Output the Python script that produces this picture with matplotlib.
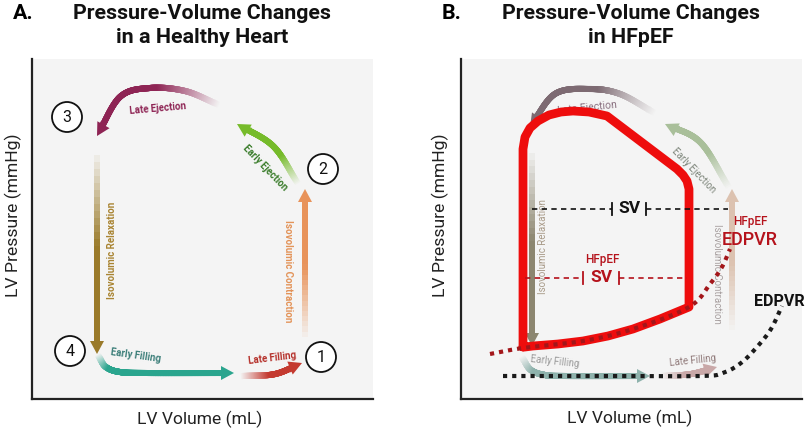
import numpy as np
import matplotlib
matplotlib.use("Agg")
import matplotlib.pyplot as plt
from matplotlib.collections import LineCollection
from matplotlib.patches import Circle, Polygon
from matplotlib.colors import to_rgb

plt.rcParams['font.family'] = ['Roboto', 'DejaVu Sans']

BG = '#f4f4f4'

# ---- panel A: cardiac cycle arrows (volume, pressure in arbitrary units) ----
late_ej_x = [185, 153, 118, 88, 65]
late_ej_y = [295, 308, 311, 302, 263]
early_ej_x = [265, 241, 205]
early_ej_y = [217, 253, 275]
contr_x = [273, 273]
contr_y = [60, 210]
relax_x = [65, 65]
relax_y = [248, 45]
early_fill_x = [67, 74, 88, 115, 202]
early_fill_y = [42, 32, 27, 26, 26]
late_fill_x = [211, 243, 270]
late_fill_y = [23, 25, 36]

steps = ['1', '2', '3', '4']
step_x = [289, 291, 35, 38]
step_y = [42, 230, 282, 48]

# ---- panel B: faded cycle + HFpEF loop ----
b_late_ej_x = [192, 159, 129, 94, 69]
b_late_ej_y = [287, 305, 310, 305, 272]
b_early_ej_x = [267, 239, 204]
b_early_ej_y = [213, 257, 275]
b_contr_x = [271, 271]
b_contr_y = [67, 210]
b_relax_x = [71, 71]
b_relax_y = [250, 53]
b_early_fill_x = [62, 70, 84, 105, 189]
b_early_fill_y = [40, 29, 24, 23, 23]
b_late_fill_x = [202, 230, 256]
b_late_fill_y = [23, 25, 32]

loop_x = [62, 62, 64, 69, 77, 88, 100, 112, 128, 146, 216, 222, 226, 228, 228,
          199, 172, 147, 122, 97, 72, 64, 62]
loop_y = [52, 250, 262, 271, 278, 284, 287, 288, 287, 283, 230, 224, 218, 210, 92,
          80, 70, 63, 58, 55, 53, 52, 52]

hf_edpvr_x = [29, 62, 122, 172, 228, 249, 261, 269]
hf_edpvr_y = [45, 51, 58, 70, 92, 115, 132, 150]

edpvr_x = [42, 150, 240, 262, 280, 296, 310, 321]
edpvr_y = [23, 23, 23, 26, 36, 52, 70, 93]

sv_y, sv_left, sv_right, sv_gap = 190, 71, 267, (151, 185)
hf_sv_y, hf_sv_left, hf_sv_right, hf_sv_gap = 121, 64, 226, (122, 158)


def smooth(xs, ys, n=30):
    P = np.column_stack([xs, ys]).astype(float)
    if len(P) == 2:
        t = np.linspace(0, 1, n)[:, None]
        return P[0] + (P[1] - P[0]) * t
    P = np.vstack([2 * P[0] - P[1], P, 2 * P[-1] - P[-2]])
    out = []
    for i in range(1, len(P) - 2):
        p0, p1, p2, p3 = P[i - 1:i + 3]
        t = np.linspace(0, 1, n, endpoint=False)[:, None]
        out.append(0.5 * (2 * p1 + (-p0 + p2) * t + (2 * p0 - 5 * p1 + 4 * p2 - p3) * t ** 2
                          + (-p0 + 3 * p1 - 3 * p2 + p3) * t ** 3))
    out.append(P[-2][None])
    return np.vstack(out)


def grad_arrow(ax, xs, ys, color, fade=0.45, width=6.0, head_l=13, head_w=14, z=2):
    pts = smooth(xs, ys)
    end = pts[-1]
    d = pts[-1] - pts[-3]
    d = d / np.hypot(*d)
    dist = np.hypot(*(pts - end).T)
    body = pts[dist > head_l * 0.9]
    body = np.vstack([body, end - d * head_l * 0.9])
    segs = np.stack([body[:-1], body[1:]], axis=1)
    c = np.array(to_rgb(color))
    bg = np.array(to_rgb(BG))
    t = np.linspace(0, 1, len(segs))
    f = np.clip(t / fade, 0, 1) if fade > 0 else np.ones_like(t)
    cols = [tuple(bg * (1 - k) + c * k) for k in f]
    lc = LineCollection(segs, colors=cols, linewidths=width / 1.389, capstyle='projecting', zorder=z)
    ax.add_collection(lc)
    perp = np.array([-d[1], d[0]])
    base = end - d * head_l
    tri = Polygon([end, base + perp * head_w / 2, base - perp * head_w / 2],
                  closed=True, color=color, zorder=z, lw=0)
    ax.add_patch(tri)


def setup(ax):
    ax.set_xlim(0, 341)
    ax.set_ylim(0, 340)
    ax.set_facecolor(BG)
    ax.set_xticks([])
    ax.set_yticks([])
    for s in ['top', 'right']:
        ax.spines[s].set_visible(False)
    for s in ['left', 'bottom']:
        ax.spines[s].set_linewidth(1.6)
        ax.spines[s].set_color('#222222')


W, H = 809, 431
fig = plt.figure(figsize=(8.09, 4.31), dpi=100)
fig.patch.set_facecolor('white')
axA = fig.add_axes([32 / W, 1 - 400 / H, 341 / W, 340 / H])
axB = fig.add_axes([461 / W, 1 - 400 / H, 341 / W, 340 / H])
setup(axA)
setup(axB)

tkw = dict(fontsize=7, fontweight='bold', ha='center', va='center')

# panel A
grad_arrow(axA, late_ej_x, late_ej_y, '#8e2454', fade=0.5)
grad_arrow(axA, early_ej_x, early_ej_y, '#76bb2a', fade=0.45)
grad_arrow(axA, contr_x, contr_y, '#e8935a', fade=0.55)
grad_arrow(axA, relax_x, relax_y, '#9a7a2a', fade=0.5)
grad_arrow(axA, early_fill_x, early_fill_y, '#2aa58e', fade=0.35)
grad_arrow(axA, late_fill_x, late_fill_y, '#c43a30', fade=0.55)

axA.text(126, 291, 'Late Ejection', color='#8e2454', rotation=5, **tkw)
axA.text(233, 232, 'Early Ejection', color='#3b7d2c', rotation=-46, **tkw)
axA.text(80, 150, 'Isovolumic Relaxation', color='#a98432', rotation=90, **tkw)
axA.text(256, 129, 'Isovolumic Contraction', color='#e39358', rotation=-90, **tkw)
axA.text(104, 44, 'Early Filling', color='#3d7f7a', rotation=-8, **tkw)
axA.text(240, 42, 'Late Filling', color='#b5302a', rotation=7, **tkw)

for s, x, y in zip(steps, step_x, step_y):
    axA.add_patch(Circle((x, y), 15, facecolor='white', edgecolor='#111111', lw=1.3, zorder=3))
    axA.text(x, y, s, fontsize=11.5, ha='center', va='center', zorder=4, color='#111111')

# panel B faded cycle
grad_arrow(axB, b_late_ej_x, b_late_ej_y, '#7d6a72', fade=0.5)
grad_arrow(axB, b_early_ej_x, b_early_ej_y, '#a9bf9a', fade=0.45)
grad_arrow(axB, b_contr_x, b_contr_y, '#dcc2b0', fade=0.55)
grad_arrow(axB, b_relax_x, b_relax_y, '#8c8670', fade=0.5)
grad_arrow(axB, b_early_fill_x, b_early_fill_y, '#8eb2ac', fade=0.35)
grad_arrow(axB, b_late_fill_x, b_late_fill_y, '#c9a8a8', fade=0.55)

bkw = dict(fontsize=7, ha='center', va='center')
axB.text(126, 292, 'Late Ejection', color='#8a7080', rotation=6, fontsize=7.5, ha='center', va='center')
axB.text(233, 230, 'Early Ejection', color='#7d857a', rotation=-46, **bkw)
axB.text(82, 153, 'Isovolumic Relaxation', color='#a89a88', rotation=90, **bkw)
axB.text(256, 126, 'Isovolumic Contraction', color='#a8a0a0', rotation=-90, **bkw)
axB.text(94, 38, 'Early Filling', color='#9a9a9a', rotation=-6, **bkw)
axB.text(232, 39, 'Late Filling', color='#907a7a', rotation=6, **bkw)

# HFpEF loop
axB.plot(loop_x, loop_y, color='#ee0d0d', lw=6.3, solid_joinstyle='round', solid_capstyle='round', zorder=5)
hp = smooth(hf_edpvr_x, hf_edpvr_y)
axB.plot(hp[:, 0], hp[:, 1], color='#a3161a', lw=3.0, ls=(0, (1, 1.2)), zorder=6)
ep = smooth(edpvr_x, edpvr_y)
axB.plot(ep[:, 0], ep[:, 1], color='#1a1a1a', lw=3.0, ls=(0, (1, 1.2)), zorder=6)


def sv_line(ax, y, left, right, gap, color, label_size):
    ax.plot([left, gap[0]], [y, y], color=color, lw=1.2, ls=(0, (3.2, 2.6)), zorder=7)
    ax.plot([gap[1], right], [y, y], color=color, lw=1.2, ls=(0, (3.2, 2.6)), zorder=7)
    for g in gap:
        ax.plot([g, g], [y - 6, y + 6], color=color, lw=1.3, zorder=7)
    ax.text(sum(gap) / 2, y + 1, 'SV', color=color, fontsize=label_size, fontweight='bold',
            ha='center', va='center', zorder=7)


sv_line(axB, sv_y, sv_left, sv_right, sv_gap, '#111111', 12.5)
sv_line(axB, hf_sv_y, hf_sv_left, hf_sv_right, hf_sv_gap, '#b5121b', 12.5)
axB.text(141, 140, 'HFpEF', color='#b5121b', fontsize=8.5, fontweight='medium', ha='center', va='center')
axB.text(289, 178, 'HFpEF', color='#b5121b', fontsize=8.5, fontweight='medium', ha='center', va='center')
axB.text(289, 160, 'EDPVR', color='#b5121b', fontsize=13, fontweight='medium', ha='center', va='center')
axB.text(318, 98, 'EDPVR', color='#111111', fontsize=11.5, fontweight='bold', ha='center', va='center',
         clip_on=False)

# titles and labels
tt = dict(fontsize=15.4, fontweight='bold', ha='center', va='baseline', color='#111111')
fig.text(13 / W, 1 - 19 / H, 'A.', fontsize=15.4, fontweight='bold', ha='left', va='baseline')
fig.text(202 / W, 1 - 19 / H, 'Pressure-Volume Changes', **tt)
fig.text(202 / W, 1 - 43 / H, 'in a Healthy Heart', **tt)
fig.text(442 / W, 1 - 19 / H, 'B.', fontsize=15.4, fontweight='bold', ha='left', va='baseline')
fig.text(631 / W, 1 - 19 / H, 'Pressure-Volume Changes', **tt)
fig.text(631 / W, 1 - 43 / H, 'in HFpEF', **tt)

lk = dict(fontsize=12.6, color='#222222', ha='center', va='center')
fig.text(13 / W, 1 - 215 / H, 'LV Pressure (mmHg)', rotation=90, **lk)
fig.text(440 / W, 1 - 215 / H, 'LV Pressure (mmHg)', rotation=90, **lk)
fig.text(200 / W, 1 - 419 / H, 'LV Volume (mL)', **lk)
fig.text(630 / W, 1 - 418 / H, 'LV Volume (mL)', **lk)

fig.savefig('out.png', dpi=100)
